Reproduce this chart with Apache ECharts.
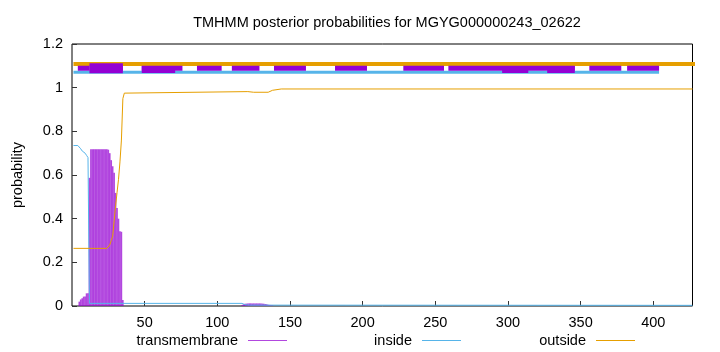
<!DOCTYPE html>
<html><head><meta charset="utf-8">
<script src="https://cdn.jsdelivr.net/npm/echarts@6/dist/echarts.min.js"></script>
<style>html,body{margin:0;padding:0;background:#fff}#c{width:720px;height:352px}</style>
</head><body><div id="c"></div>
<script>
// ---- data ----
const titleText = 'TMHMM posterior probabilities for MGYG000000243_02622';
const xTicks = [50, 100, 150, 200, 250, 300, 350, 400];
const yTicks = [0, 0.2, 0.4, 0.6, 0.8, 1, 1.2];
const seqLength = 427;

// transmembrane posterior (impulses)
const tmX = [5,6,7,8,9,10,11,12,13,14,15,16,17,18,19,20,21,22,23,24,25,26,27,28,29,30,31,32,33,34,35,
             117,118,119,120,121,122,123,124,125,126,127,128,129,130,131,132,133,134,135,136,137,138];
const tmY = [0.02,0.03,0.035,0.043,0.043,0.058,0.058,0.587,0.718,0.718,0.718,0.718,0.718,0.718,0.718,0.718,0.718,0.718,0.718,0.718,0.716,0.70,0.668,0.64,0.61,0.518,0.449,0.40,0.342,0.34,0.028,
             0.004,0.008,0.01,0.011,0.012,0.012,0.012,0.012,0.012,0.012,0.012,0.012,0.012,0.012,0.011,0.01,0.009,0.008,0.006,0.005,0.004,0.003];

// inside posterior
const inX = [1,4,5,6,7,8,9,10,11,12,117,119,122,427];
const inY = [0.735,0.735,0.73,0.72,0.71,0.705,0.70,0.69,0.68,0.012,0.012,0.006,0.004,0.003];

// outside posterior
const outX = [1,24,25,26,27,28,29,30,31,32,33,34,35,36,37,121,125,135,138,144,427];
const outY = [0.264,0.264,0.268,0.28,0.3,0.32,0.39,0.46,0.52,0.58,0.66,0.76,0.95,0.975,0.982,0.982,0.979,0.979,0.988,0.994,0.994];

// predicted topology bands at top
const outsideBand = [1, 447];
const outsideBandLevel = 1.1086;
const insideBand = [1, 404];
const insideBandLevel = 1.0706;
const tmBands = [[4,12],[12,35],[48,76],[86,103],[110,129],[139,161],[181,203],[228,256],[259,346],[356,378],[382,404]];
const tmBandLevel = 1.089;
const tmThick = [[12,35]];
const tmThickLow = [[48,71],[296,314],[327,346]];
const tmThickLowLevel = 1.083;

// ---- chart ----
const PURPLE = '#9400d3', BLUE = '#56b4e9', ORANGE = '#e69f00';
const FONT = 'Liberation Sans';
const chart = echarts.init(document.getElementById('c'));

const zip = (xs, ys) => xs.map((x, i) => [x, ys[i]]);
const series = [];
series.push({
  name: 'transmembrane', type: 'bar', data: zip(tmX, tmY), barWidth: 1.6,
  itemStyle: { color: PURPLE, opacity: 0.72 }, animation: false, silent: true
});
series.push({
  name: 'inside', type: 'line', data: zip(inX, inY), showSymbol: false,
  lineStyle: { color: BLUE, width: 1 }, itemStyle: { color: BLUE }, animation: false, silent: true
});
series.push({
  name: 'outside', type: 'line', data: zip(outX, outY), showSymbol: false,
  lineStyle: { color: ORANGE, width: 1 }, itemStyle: { color: ORANGE }, animation: false, silent: true
});
function band(seg, level, color, width, clip) {
  series.push({
    type: 'line', data: [[seg[0], level], [seg[1], level]], showSymbol: false, clip: clip,
    lineStyle: { color: color, width: width, cap: 'butt' }, animation: false, silent: true, z: 3
  });
}
band(outsideBand, outsideBandLevel, ORANGE, 4, false);
band(insideBand, insideBandLevel, BLUE, 3, true);
tmBands.forEach(s => band(s, tmBandLevel, PURPLE, 5, true));
tmThick.forEach(s => band(s, tmBandLevel, PURPLE, 10, true));
tmThickLow.forEach(s => band(s, tmThickLowLevel, PURPLE, 7, true));

function legendFor(name, color, rightPos) {
  return {
    data: [{ name: name, icon: 'rect', itemStyle: { color: color } }],
    right: rightPos, top: 333, padding: 0, align: 'right',
    itemWidth: 39, itemHeight: 1.2, selectedMode: false,
    textStyle: { fontFamily: FONT, fontSize: 14.5, color: '#000', padding: [0, 5, 0, 0] }
  };
}

chart.setOption({
  animation: false,
  backgroundColor: '#fff',
  title: {
    text: titleText, left: 382, top: 10, textAlign: 'center',
    textStyle: { fontFamily: FONT, fontSize: 14.5, fontWeight: 'normal', color: '#000' }
  },
  legend: [
    legendFor('transmembrane', PURPLE, 433),
    legendFor('inside', BLUE, 259),
    legendFor('outside', ORANGE, 85)
  ],
  grid: { left: 72, right: 27.5, top: 44, bottom: 46, show: true, borderColor: '#000', borderWidth: 1, backgroundColor: 'transparent' },
  xAxis: {
    type: 'value', min: 0, max: seqLength, interval: 50,
    axisLine: { show: false },
    axisTick: { inside: true, length: 5, lineStyle: { color: '#333' } },
    splitLine: { show: false },
    axisLabel: {
      margin: 9, fontFamily: FONT, fontSize: 14.5, color: '#000',
      showMinLabel: false, showMaxLabel: false,
      formatter: v => (xTicks.indexOf(v) >= 0 ? String(v) : '')
    }
  },
  yAxis: {
    type: 'value', min: 0, max: 1.2, interval: 0.2,
    name: 'probability', nameLocation: 'middle', nameRotate: 90, nameGap: 47,
    nameTextStyle: { fontFamily: FONT, fontSize: 14.5, color: '#000' },
    axisLine: { show: false },
    axisTick: { inside: true, length: 5, lineStyle: { color: '#333' } },
    splitLine: { show: false },
    axisLabel: {
      margin: 9, fontFamily: FONT, fontSize: 14.5, color: '#000',
      formatter: v => { const t = yTicks.find(k => Math.abs(k - v) < 1e-9); return t === undefined ? '' : String(t); }
    }
  },
  series: series
});
</script>
</body></html>
